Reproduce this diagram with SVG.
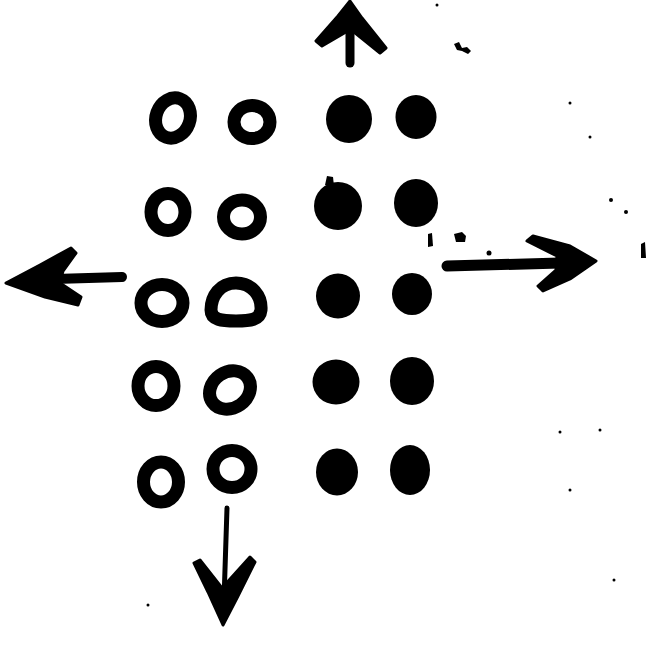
<svg xmlns="http://www.w3.org/2000/svg" width="653" height="665" viewBox="0 0 653 665">
<style>
.ring{fill:none;stroke:#000;stroke-width:13}
.dot{fill:#000}
.shaft{fill:none;stroke:#000;stroke-linecap:round}
.head{fill:#000;stroke:#000;stroke-width:3;stroke-linejoin:round}
.speck{fill:#000}
</style>
<rect width="653" height="665" fill="#fff"/>
<g id="open-r1c1"><ellipse class="ring" cx="173" cy="118" rx="17" ry="20.5" transform="rotate(20 173 118)" stroke-width="14"/></g>
<g id="open-r1c2"><ellipse class="ring" cx="252" cy="122" rx="18" ry="16.5"/></g>
<g id="open-r2c1"><ellipse class="ring" cx="168" cy="212" rx="17" ry="18.5" stroke-width="14"/></g>
<g id="open-r2c2"><ellipse class="ring" cx="242" cy="217" rx="18.5" ry="17"/></g>
<g id="open-r3c1"><ellipse class="ring" cx="162" cy="303" rx="21" ry="18.5" stroke-width="15"/></g>
<g id="open-r3c2"><path class="ring" d="M236 283 C252 283 262 296 261 310 C260 320 250 321 236 321 C222 321 211 320 211 310 C211 296 220 283 236 283 Z"/></g>
<g id="open-r4c1"><ellipse class="ring" cx="156" cy="386" rx="18" ry="19.5" stroke-width="14"/></g>
<g id="open-r4c2"><ellipse class="ring" cx="230" cy="390" rx="21.5" ry="18" transform="rotate(-35 230 390)" stroke-width="11"/></g>
<g id="open-r5c1"><ellipse class="ring" cx="161" cy="482" rx="17.5" ry="20" stroke-width="13"/></g>
<g id="open-r5c2"><ellipse class="ring" cx="232" cy="469" rx="19" ry="18.5" stroke-width="11"/></g>
<g id="fill-r1c1"><ellipse class="dot" cx="349" cy="119" rx="23" ry="24"/></g>
<g id="fill-r1c2"><ellipse class="dot" cx="416" cy="117" rx="20.5" ry="22"/></g>
<g id="fill-r2c1"><ellipse class="dot" cx="338" cy="206" rx="24" ry="24"/><path class="dot" d="M325 185 L327 176 L333 177 L334 186 Z"/></g>
<g id="fill-r2c2"><ellipse class="dot" cx="416" cy="203" rx="22" ry="24"/></g>
<g id="fill-r3c1"><ellipse class="dot" cx="338" cy="296" rx="22" ry="22.5"/></g>
<g id="fill-r3c2"><ellipse class="dot" cx="412" cy="294" rx="20" ry="21"/></g>
<g id="fill-r4c1"><ellipse class="dot" cx="336" cy="382" rx="23.5" ry="22.5"/></g>
<g id="fill-r4c2"><ellipse class="dot" cx="412" cy="381" rx="22" ry="24"/></g>
<g id="fill-r5c1"><ellipse class="dot" cx="337" cy="472" rx="21" ry="23.5"/></g>
<g id="fill-r5c2"><ellipse class="dot" cx="410" cy="470" rx="20" ry="25"/></g>
<g id="connectors">
<g id="arrow-up">
<path class="shaft" d="M350 22 L350 63" stroke-width="9"/>
<path class="head" d="M350 1 L362 18 L386 48 L380 53 L354 32 L346 32 L322 46 L316 41 L338 16 Z"/>
</g>
<g id="arrow-left">
<path class="shaft" d="M55 279 L122 277" stroke-width="10"/>
<path class="head" d="M6 283 L40 265 L71 248 L76 253 L63 271 L60 283 L81 297 L78 305 L45 297 Z"/>
</g>
<g id="arrow-right">
<path class="shaft" d="M447 266 L560 263" stroke-width="11"/>
<path class="head" d="M527 241 L533 236 L570 246 L596 261 L570 279 L543 291 L538 286 L556 270 L557 256 Z"/>
</g>
<g id="arrow-down">
<path class="shaft" d="M227 508 L224 600" stroke-width="5"/>
<path class="head" d="M194 563 L200 560 L222 588 L250 557 L255 562 L238 596 L223 625 L208 592 Z"/>
</g>
</g>
<g id="specks">
<path class="speck" d="M454 44 L459 42 L462 48 L467 47 L471 51 L468 54 L462 51 L457 50 Z"/>
<path class="speck" d="M454 234 L462 232 L466 236 L465 242 L456 242 Z"/>
<path class="speck" d="M428 234 L432 233 L433 246 L428 247 Z"/>
<circle class="speck" cx="489" cy="253" r="2.5"/>
<path class="speck" d="M641 244 L645 242 L646 258 L641 258 Z"/>
<circle class="speck" cx="611" cy="200" r="2"/>
<circle class="speck" cx="626" cy="212" r="2"/>
<circle class="speck" cx="437" cy="5" r="1.5"/>
<circle class="speck" cx="570" cy="103" r="1.5"/>
<circle class="speck" cx="590" cy="137" r="1.5"/>
<circle class="speck" cx="560" cy="432" r="1.5"/>
<circle class="speck" cx="600" cy="430" r="1.5"/>
<circle class="speck" cx="570" cy="490" r="1.5"/>
<circle class="speck" cx="614" cy="580" r="1.5"/>
<circle class="speck" cx="148" cy="605" r="1.5"/>
</g>
</svg>
